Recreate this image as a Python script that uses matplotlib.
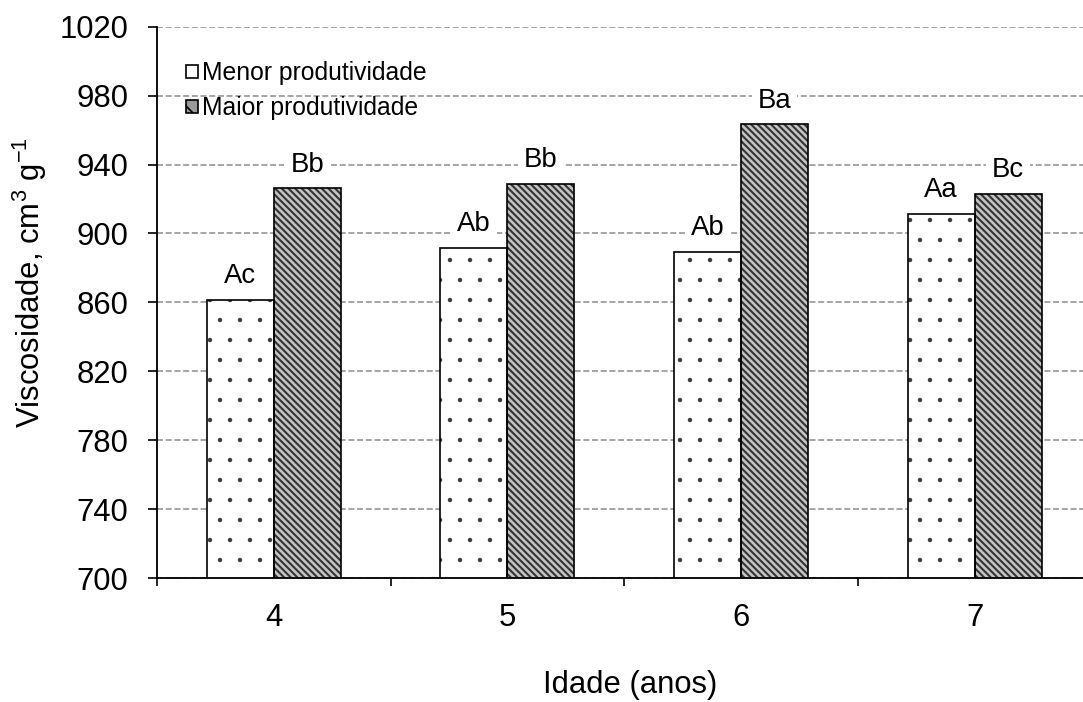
import matplotlib
matplotlib.use("Agg")
import matplotlib.pyplot as plt
import matplotlib.patches as mpatches
import numpy as np

# Data
idades = ["4", "5", "6", "7"]
menor = [861.6, 891.7, 889.4, 911.4]
maior = [926.3, 928.8, 963.4, 923.0]
letras_menor = ["Ac", "Ab", "Ab", "Aa"]
letras_maior = ["Bb", "Bb", "Ba", "Bc"]
y_ticks = [700, 740, 780, 820, 860, 900, 940, 980, 1020]

DPI = 120
W, H = 1083, 702


def pt(px):
    return px * 72.0 / DPI


plt.rcParams["font.family"] = ["Liberation Sans", "DejaVu Sans"]
plt.rcParams["mathtext.fontset"] = "custom"
plt.rcParams["mathtext.rm"] = "Liberation Sans"
plt.rcParams["mathtext.it"] = "Liberation Sans:italic"

fig = plt.figure(figsize=(W / DPI, H / DPI), dpi=DPI)
x0, x1 = 157, 1091.5
ytop, ybot = 26.8, 578
ax = fig.add_axes([x0 / W, 1 - ybot / H, (x1 - x0) / W, (ybot - ytop) / H])

x = np.arange(len(idades))
bw = 0.287

ax.set_axisbelow(True)
ax.yaxis.grid(True, color="#8a8a8a", linestyle=(0, (4.0, 1.8)), linewidth=0.9)


def hatched_bars(xpos, vals, face, hatch, hcolor, hlw):
    # texture layer (hatch takes the colour of the edge), then a black outline
    with plt.rc_context({"hatch.linewidth": hlw}):
        bars = ax.bar(xpos, vals, bw, color=face, edgecolor=hcolor,
                      linewidth=0, hatch=hatch, zorder=2)
    for b in bars:
        if hasattr(b, "set_hatch_linewidth"):
            b.set_hatch_linewidth(hlw)
    ax.bar(xpos, vals, bw, facecolor="none", edgecolor="black",
           linewidth=1.0, zorder=3)


hatched_bars(x - bw / 2, menor, "white", ".", "#3a3a3a", 0.25)
hatched_bars(x + bw / 2, maior, "#c4c4c4", "\\" * 6, "#333333", 1.25)

lab_fs = pt(27.5)
for xi, v, t in zip(x - bw / 2, menor, letras_menor):
    ax.annotate(t, (xi, v), xytext=(0, pt(16.5)), textcoords="offset points",
                ha="center", va="baseline", fontsize=lab_fs, zorder=4,
                bbox=dict(facecolor="white", edgecolor="none", pad=pt(6)))
for xi, v, t in zip(x + bw / 2, maior, letras_maior):
    ax.annotate(t, (xi, v), xytext=(0, pt(16.5)), textcoords="offset points",
                ha="center", va="baseline", fontsize=lab_fs, zorder=4,
                bbox=dict(facecolor="white", edgecolor="none", pad=pt(6)))

ax.set_ylim(700, 1020)
ax.set_xlim(-0.5, len(idades) - 0.5)
ax.set_yticks(y_ticks)
ax.tick_params(axis="y", labelsize=pt(31), length=pt(9), width=1.0,
               pad=pt(20), direction="out")

# category boundaries carry the tick marks, centres carry the labels
ax.set_xticks(np.arange(len(idades) + 1) - 0.5)
ax.set_xticklabels([])
ax.set_xticks(x, minor=True)
ax.set_xticklabels(idades, minor=True)
ax.tick_params(axis="x", which="major", length=pt(8), width=1.0, direction="out")
ax.tick_params(axis="x", which="minor", length=0, labelsize=pt(31), pad=pt(25))

for s in ["top", "right"]:
    ax.spines[s].set_visible(False)
for s in ["left", "bottom"]:
    ax.spines[s].set_linewidth(1.1)

fig.text(630 / W, 1 - 685 / H, "Idade (anos)", ha="center", va="center",
         fontsize=pt(31))
fig.text(30 / W, 1 - 283 / H, "Viscosidade, cm$^{3}$ g$^{-1}$", ha="center",
         va="center", rotation=90, fontsize=pt(31))

handles = [
    mpatches.Patch(facecolor="white", edgecolor="black", linewidth=1.0,
                   label="Menor produtividade"),
    mpatches.Patch(facecolor="#9a9a9a", edgecolor="black", linewidth=1.0,
                   hatch="\\\\", label="Maior produtividade"),
]
ax.legend(handles=handles, loc="upper left",
          bbox_to_anchor=(186 / W, 1 - 61 / H),
          bbox_transform=fig.transFigure, frameon=False,
          fontsize=pt(24.8), handlelength=0.48, handleheight=0.45,
          handletextpad=0.17, labelspacing=0.46, borderpad=0,
          borderaxespad=0)

fig.savefig("out.png", dpi=DPI)
